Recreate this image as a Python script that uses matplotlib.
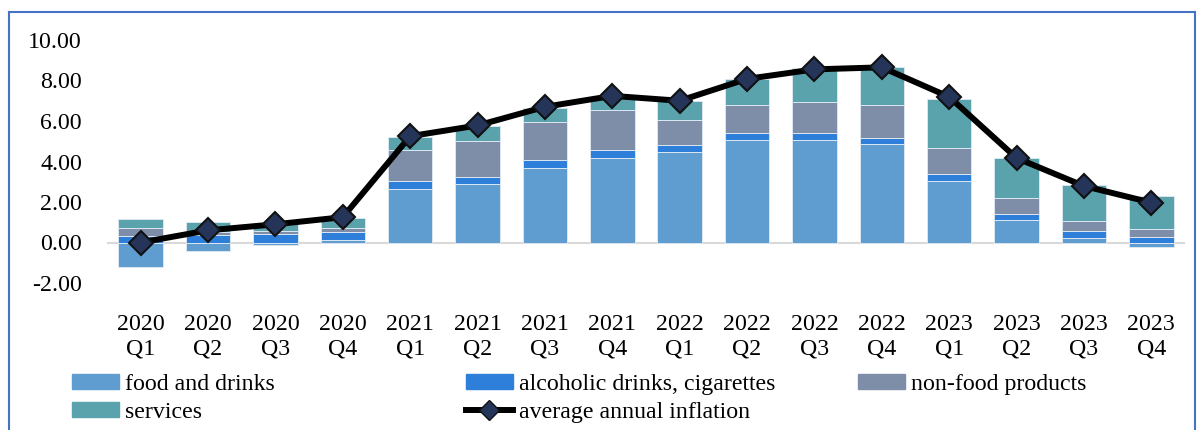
import numpy as np
import matplotlib
matplotlib.use('Agg')
import matplotlib.pyplot as plt
from matplotlib.lines import Line2D
from matplotlib.patches import Patch

plt.rcParams['font.family'] = ['Liberation Serif', 'DejaVu Serif']

quarters = ['2020\nQ1', '2020\nQ2', '2020\nQ3', '2020\nQ4',
            '2021\nQ1', '2021\nQ2', '2021\nQ3', '2021\nQ4',
            '2022\nQ1', '2022\nQ2', '2022\nQ3', '2022\nQ4',
            '2023\nQ1', '2023\nQ2', '2023\nQ3', '2023\nQ4']

food = [-1.20, -0.42, -0.10, 0.12, 2.62, 2.87, 3.68, 4.17,
        4.49, 5.08, 5.05, 4.85, 3.05, 1.09, 0.23, -0.20]
alcohol = [0.34, 0.38, 0.40, 0.41, 0.41, 0.36, 0.41, 0.40,
           0.33, 0.35, 0.35, 0.31, 0.33, 0.31, 0.33, 0.26]
non_food = [0.39, 0.15, 0.17, 0.20, 1.56, 1.80, 1.88, 1.95,
            1.25, 1.37, 1.52, 1.61, 1.27, 0.78, 0.51, 0.42]
services = [0.43, 0.47, 0.41, 0.47, 0.61, 0.71, 0.68, 0.67,
            0.91, 1.25, 1.68, 1.88, 2.44, 1.99, 1.77, 1.61]
inflation = [0.00, 0.60, 0.90, 1.25, 5.25, 5.78, 6.70, 7.24,
             7.00, 8.08, 8.55, 8.65, 7.19, 4.17, 2.79, 1.97]

series = [('food and drinks', food, '#5f9dd1'),
          ('alcoholic drinks, cigarettes', alcohol, '#2e7fd9'),
          ('non-food products', non_food, '#7f8ea8'),
          ('services', services, '#5aa3ad')]

fig = plt.figure(figsize=(12.02, 4.30), dpi=100)
ax = fig.add_axes([107/1202, 1 - 283/430, (1185 - 107)/1202, (283 - 40)/430])

x = np.arange(len(quarters))
pos_bottom = np.zeros(len(x))
neg_bottom = np.zeros(len(x))
for name, vals, color in series:
    vals = np.array(vals)
    bottom = np.where(vals >= 0, pos_bottom, neg_bottom)
    ax.bar(x, vals, width=0.66, bottom=bottom, color=color,
           edgecolor='#dbe6f0', linewidth=0.7, zorder=2)
    pos_bottom += np.where(vals >= 0, vals, 0)
    neg_bottom += np.where(vals < 0, vals, 0)

ax.axhline(0, color='#d9d9d9', linewidth=1.5, zorder=1)
ax.plot(x, inflation, color='black', linewidth=4.3, marker='D',
        markersize=12, markerfacecolor='#25355a', markeredgecolor='#111111',
        markeredgewidth=1.5, zorder=3)

ax.set_xlim(-0.5, 15.5)
ax.set_ylim(-2, 10)
ax.set_yticks(np.arange(-2, 10.1, 2))
ax.set_yticklabels(['%.2f' % v for v in np.arange(-2, 10.1, 2)])
ax.set_xticks(x)
ax.set_xticklabels(quarters, linespacing=1.25)
ax.tick_params(axis='y', length=0, pad=18, labelsize=17.2)
ax.tick_params(axis='x', length=0, pad=22, labelsize=17.2)
for s in ax.spines.values():
    s.set_visible(False)

# legend split in columns like the original
cols = [
    ([Patch(color='#5f9dd1'), Patch(color='#5aa3ad')], ['food and drinks', 'services'], 72),
    ([Patch(color='#2e7fd9'),
      Line2D([], [], color='black', linewidth=4.3, marker='D', markersize=10,
             markerfacecolor='#25355a', markeredgecolor='#111111')],
     ['alcoholic drinks, cigarettes', 'average annual inflation'], 466),
    ([Patch(color='#7f8ea8')], ['non-food products'], 858),
]
for handles, labels, px in cols:
    fig.legend(handles, labels, loc='upper left',
               bbox_to_anchor=(px/1202, 1 - 374/430), frameon=False,
               fontsize=17.2, handlelength=1.95, handleheight=0.6,
               handletextpad=0.28, labelspacing=0.3, borderpad=0, borderaxespad=0)

# blue frame
bc = '#4472c4'
fig.add_artist(Line2D([9/1202, 9/1202], [0, 1 - 12/430], color=bc, linewidth=1.5))
fig.add_artist(Line2D([9/1202, 1195/1202], [1 - 12/430, 1 - 12/430], color=bc, linewidth=1.5))
fig.add_artist(Line2D([1195/1202, 1195/1202], [0, 1 - 12/430], color=bc, linewidth=1.5))

fig.savefig('out.png', dpi=100)
